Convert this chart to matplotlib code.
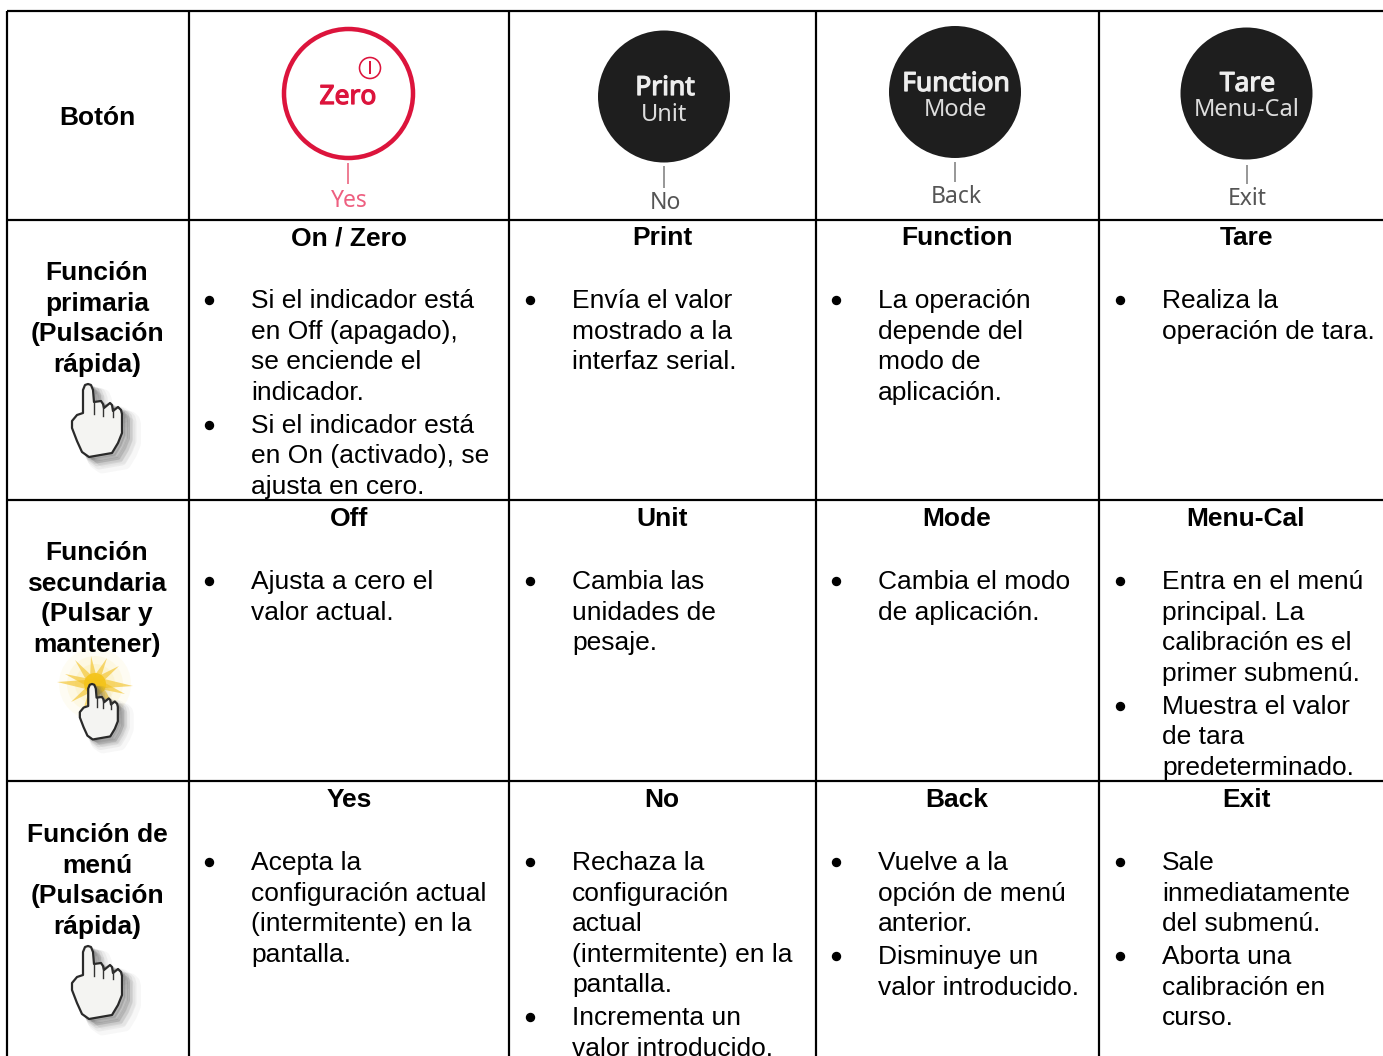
import matplotlib
matplotlib.use("Agg")
import matplotlib.pyplot as plt
import matplotlib.patheffects as pe
from matplotlib.patches import Circle, Polygon

plt.rcParams['font.family'] = ['Liberation Sans', 'DejaVu Sans']

# table text
row_titles = [["Función", "primaria", "(Pulsación", "rápida)"],
              ["Función", "secundaria", "(Pulsar y", "mantener)"],
              ["Función de", "menú", "(Pulsación", "rápida)"]]
col_heads = [["On / Zero", "Print", "Function", "Tare"],
             ["Off", "Unit", "Mode", "Menu-Cal"],
             ["Yes", "No", "Back", "Exit"]]
row1 = [[["Si el indicador está", "en Off (apagado),", "se enciende el", "indicador."],
         ["Si el indicador está", "en On (activado), se", "ajusta en cero."]],
        [["Envía el valor", "mostrado a la", "interfaz serial."]],
        [["La operación", "depende del", "modo de", "aplicación."]],
        [["Realiza la", "operación de tara."]]]
row2 = [[["Ajusta a cero el", "valor actual."]],
        [["Cambia las", "unidades de", "pesaje."]],
        [["Cambia el modo", "de aplicación."]],
        [["Entra en el menú", "principal. La", "calibración es el", "primer submenú."],
         ["Muestra el valor", "de tara", "predeterminado."]]]
row3 = [[["Acepta la", "configuración actual", "(intermitente) en la", "pantalla."]],
        [["Rechaza la", "configuración", "actual", "(intermitente) en la", "pantalla."],
         ["Incrementa un", "valor introducido."]],
        [["Vuelve a la", "opción de menú", "anterior."],
         ["Disminuye un", "valor introducido."]],
        [["Sale", "inmediatamente", "del submenú."],
         ["Aborta una", "calibración en", "curso."]]]
rows = [row1, row2, row3]

# grid, in pixels of the picture
col_edges = [7, 189, 509, 816, 1099, 1383]
row_edges = [11, 220, 500, 781, 1056]
col_centers = [349, 662, 957, 1246]
bullet_x = [209, 530, 836, 1120]
text_x = [251, 572, 878, 1162]
title_y = [271, 551, 833]
head_off = [16, 17, 17]
body_off = [79, 80, 80]

# hand placement: x of tip, y of tip, scale
hand_pos = [(88, 384, 1.0), (92, 684, 0.76), (88, 946, 1.0)]

# buttons: center x, center y, top word, lower word, stem word, text rows
buttons = [(664, 96.5, "Print", "Unit", "No", 85, 113, 167, 187, 201),
           (955, 92, "Function", "Mode", "Back", 81, 108, 163, 181, 195),
           (1246.5, 93.5, "Tare", "Menu-Cal", "Exit", 81, 108, 166, 183, 197)]

# hand outline, px from the finger tip
hand_x = [-5, -5, -3, 0, 3, 5, 6, 13, 15, 16, 22, 24, 25, 30, 33, 34,
          34, 30, 24, 1, -6, -11, -16, -16, -11, -5]
hand_y = [29, 6, 1, 0, 1, 6, 18, 17, 20, 24, 19, 21, 27, 23, 26, 30,
          49, 59, 69, 73, 68, 57, 44, 37, 31, 29]
# lines between the fingers
split_x = [6, 15, 25]
split_y0 = [18, 21, 24]
split_y1 = [30, 32, 33]

# star behind the second hand
star_x = [-38, -20, -24, -4, -30, 12]
star_y = [-2, -24, 18, -28, -10, -26]

PT = 72 / 100


def draw_text(ax, x, y, s, size=19.0, **kw):
    # y is the middle of the x height more or less
    ax.text(x, y + 9, s, fontsize=size, va='baseline', color='black', **kw)


def button_text(ax, x, y, s, color, size, heavy=False):
    t = ax.text(x, y, s, color=color, fontsize=size, family='Noto Sans', ha='center', va='center')
    if heavy:
        t.set_path_effects([pe.withStroke(linewidth=0.9, foreground=color)])


def draw_star(ax, cx, cy):
    for r, al in [(36, 0.10), (28, 0.15), (20, 0.2)]:
        ax.add_patch(Circle((cx, cy), r, fc='#fbe68a', ec='none', alpha=al))
    for a, b in zip(star_x, star_y):
        ax.add_patch(Polygon([(cx + a, cy + b), (cx + a * 0.2 + b * 0.15, cy + b * 0.2 - a * 0.15),
                              (cx - a, cy - b), (cx - a * 0.2 - b * 0.15, cy - b * 0.2 + a * 0.15)],
                             fc='#f2bf1d', ec='none', alpha=0.6))
    ax.add_patch(Circle((cx, cy), 11, fc='#f4c41a', ec='none', alpha=0.9))


def draw_hand(ax, tx, ty, k):
    pts = [(tx + x * k, ty + y * k) for x, y in zip(hand_x, hand_y)]
    # soft shadow
    for off, lw, al in [(13, 12, 0.05), (10, 9, 0.08), (8, 6, 0.12), (6, 4, 0.16), (3, 2, 0.22)]:
        ax.add_patch(Polygon([(x + off * k, y + off * 0.8 * k) for x, y in pts], fc='#666666', ec='#666666',
                             lw=lw * PT, alpha=al, joinstyle='round'))
    ax.add_patch(Polygon(pts, fc='#f4f4f2', ec='#2a2a2a', lw=1.6, joinstyle='round'))
    for x0, y0, y1 in zip(split_x, split_y0, split_y1):
        ax.plot([tx + x0 * k, tx + x0 * k], [ty + y0 * k, ty + y1 * k], color='#333333', lw=1.0)


fig = plt.figure(figsize=(13.83, 10.56), dpi=100)
ax = fig.add_axes([0, 0, 1, 1])
ax.set_xlim(0, 1383)
ax.set_ylim(1056, 0)
ax.axis('off')

# grid lines
for x in col_edges[:-1]:
    ax.plot([x, x], [11, 1056], color='black', lw=2.2 * PT, solid_capstyle='butt')
for y in row_edges[:-1]:
    ax.plot([7, 1383], [y, y], color='black', lw=2.2 * PT, solid_capstyle='butt')

# header row
draw_text(ax, 97, 116, "Botón", weight='bold', ha='center')

# zero button
red = '#dc143c'
ax.add_patch(Circle((348.5, 93.5), 64.5, fc='white', ec=red, lw=4.5 * PT))
ax.add_patch(Circle((370, 68), 10.5, fc='white', ec=red, lw=1.6 * PT))
ax.plot([370, 370], [62, 73], color=red, lw=2 * PT)
ax.plot([348, 348], [164, 183], color='#ee7f95', lw=2 * PT)
button_text(ax, 348, 97, "Zero", red, 19, heavy=True)
button_text(ax, 349, 201, "Yes", '#ee5f80', 16.5)

for cx, cy, top, low, word, ty, ly, s0, s1, wy in buttons:
    ax.add_patch(Circle((cx, cy), 66, fc='#1e1e1e', ec='none'))
    button_text(ax, cx + 1, ty + 3, top, '#eeeeee', 19, heavy=True)
    button_text(ax, cx, ly + 2, low, '#dddddd', 17)
    ax.plot([cx, cx], [s0, s1], color='#999999', lw=2 * PT)
    button_text(ax, cx + 1, wy + 2, word, '#555555', 16.5)

# body rows
for r, cells in enumerate(rows):
    top = row_edges[r + 1]
    for i, s in enumerate(row_titles[r]):
        draw_text(ax, 97, title_y[r] + i * 30.6, s, weight='bold', ha='center')
    for c, cell in enumerate(cells):
        draw_text(ax, col_centers[c], top + head_off[r], col_heads[r][c], weight='bold', ha='center')
        y = top + body_off[r]
        for bullet in cell:
            ax.plot([bullet_x[c]], [y + 1], 'o', color='black', ms=8 * PT)
            for line in bullet:
                draw_text(ax, text_x[c], y, line, ha='left')
                y += 30.6
            y += 2.2

draw_star(ax, 95, 684)
for tx, ty, k in hand_pos:
    draw_hand(ax, tx, ty, k)

fig.savefig("out.png", dpi=100)
